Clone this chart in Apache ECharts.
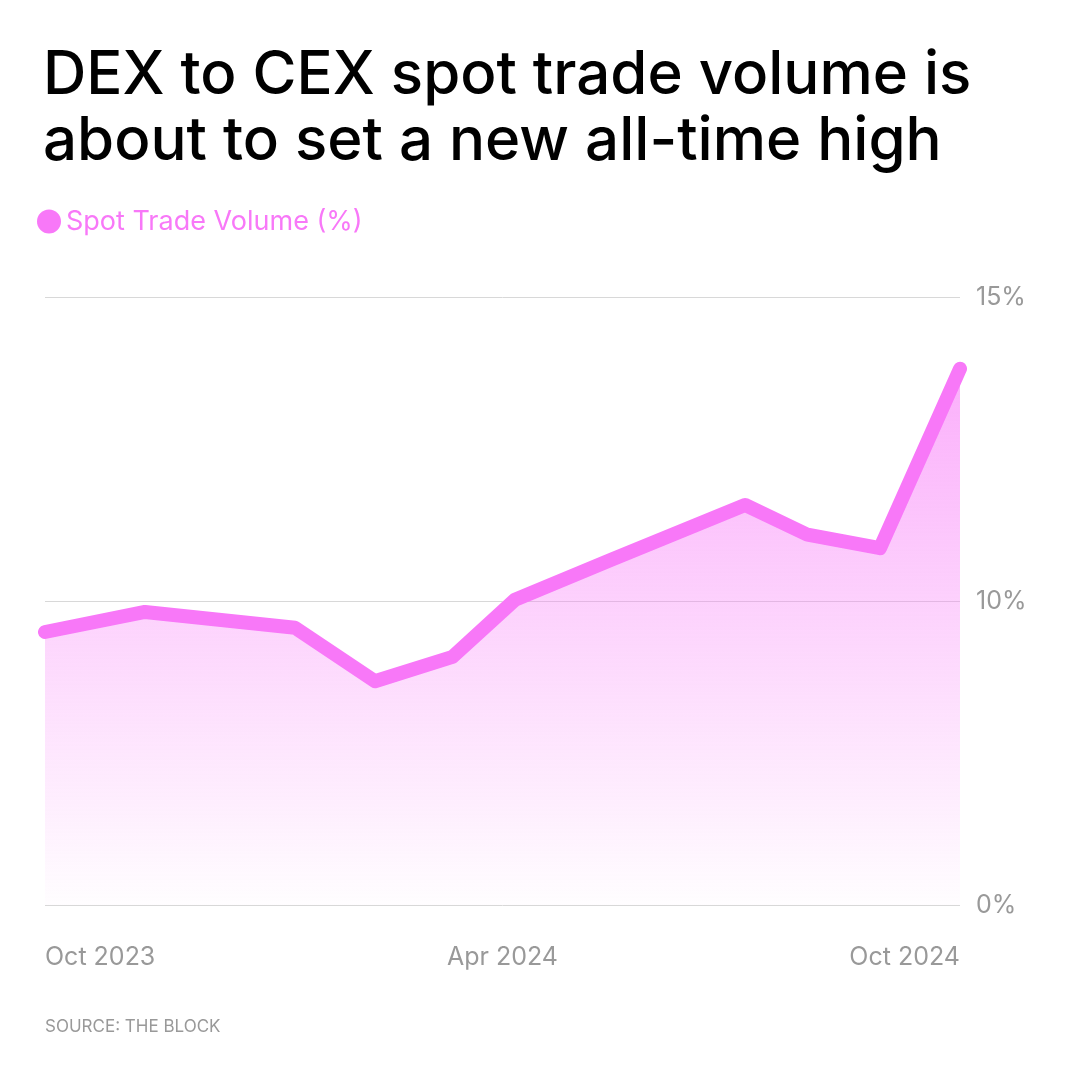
<!DOCTYPE html>
<html><head><meta charset="utf-8">
<script src="https://cdn.jsdelivr.net/npm/echarts@6/dist/echarts.min.js"></script>
<style>html,body{margin:0;background:#fff}#c{width:1080px;height:1080px}</style>
</head><body><div id="c"></div>
<script>
// dates of the points and their share (%)
let dates = ["2023-10-01","2023-11-10","2024-01-09","2024-02-10","2024-03-12","2024-04-06","2024-05-14","2024-07-07","2024-08-01","2024-08-30","2024-10-01"];
let values = [9.49, 9.82, 9.56, 8.68, 9.08, 10.02, 10.67, 11.58, 11.09, 10.87, 13.82];
let xTicks = ["2023-10-01","2024-04-01","2024-10-01"];
let yTickLabels = {5: "0%", 10: "10%", 15: "15%"};
let months = ["Jan","Feb","Mar","Apr","May","Jun","Jul","Aug","Sep","Oct","Nov","Dec"];

let pink = "#f878f8";
let t = d => new Date(d + "T00:00:00Z").getTime();
var myChart = echarts.init(document.getElementById("c"));
var option = {
  animation: false,
  title: [
    {text: "DEX to CEX spot trade volume is\nabout to set a new all-time high", left: 38, top: 38,
     textStyle: {fontFamily: "Inter", fontSize: 60, fontWeight: 500, color: "#000", lineHeight: 66}},
    {text: "SOURCE: THE BLOCK", left: 40, top: 1013,
     textStyle: {fontFamily: "Inter", fontSize: 17, fontWeight: 400, color: "#999"}}
  ],
  legend: {
    left: 32, top: 203, icon: "circle", itemWidth: 24, itemHeight: 24, itemGap: 6,
    textStyle: {fontFamily: "Inter", fontSize: 27, color: pink},
    data: ["Spot Trade Volume (%)"]
  },
  grid: {left: 45, right: 120, top: 297, bottom: 175},
  xAxis: {
    type: "value",
    min: t(dates[0]), max: t(dates[dates.length - 1]),
    axisLine: {show: false}, axisTick: {show: false}, splitLine: {show: false},
    axisLabel: {
      customValues: xTicks.map(t),
      alignMinLabel: "left", alignMaxLabel: "right",
      margin: 40, fontFamily: "Inter", fontSize: 25, color: "#999",
      formatter: v => { let d = new Date(v); return months[d.getUTCMonth()] + " " + d.getUTCFullYear(); }
    }
  },
  yAxis: {
    type: "value", position: "right", min: 5, max: 15, interval: 5,
    axisLine: {show: false}, axisTick: {show: false},
    splitLine: {lineStyle: {color: "#d8d8d8", width: 1}},
    axisLabel: {margin: 16, fontFamily: "Inter", fontSize: 25, color: "#999", formatter: v => yTickLabels[v]}
  },
  series: [{
    name: "Spot Trade Volume (%)", type: "line", symbol: "none",
    itemStyle: {color: pink},
    lineStyle: {color: pink, width: 14, join: "round", cap: "round"},
    areaStyle: {
      origin: "start",
      color: {type: "linear", x: 0, y: 0, x2: 0, y2: 1, colorStops: [
        {offset: 0, color: "rgba(248,120,248,0.85)"},
        {offset: 1, color: "rgba(248,120,248,0.02)"}
      ]}
    },
    data: dates.map((d, i) => [t(d), values[i]])
  }]
};
myChart.setOption(option);
</script></body></html>
